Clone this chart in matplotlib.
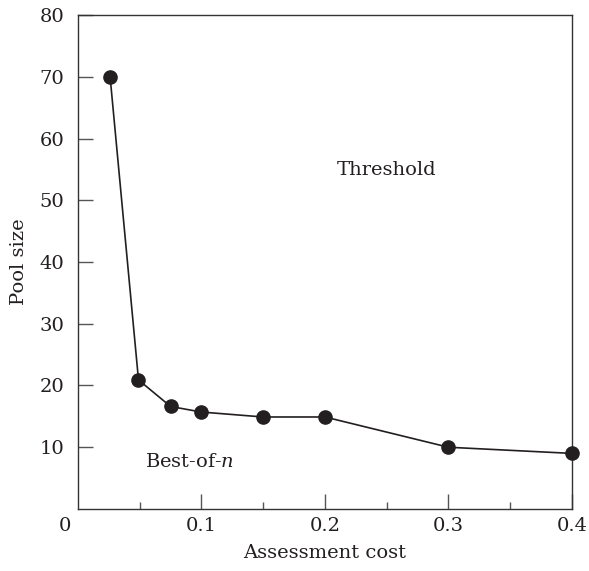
import matplotlib
matplotlib.use("Agg")
import matplotlib.pyplot as plt
from matplotlib.ticker import FixedLocator

plt.rcParams['font.family'] = ['DejaVu Serif']
plt.rcParams['mathtext.fontset'] = 'dejavuserif'

cost = [0.026, 0.049, 0.075, 0.1, 0.15, 0.2, 0.3, 0.4]
pool = [70, 20.9, 16.6, 15.7, 14.9, 14.9, 10.0, 9.0]
xticks = [0.1, 0.2, 0.3, 0.4]
xticklabels = ['0.1', '0.2', '0.3', '0.4']
yticks = [10, 20, 30, 40, 50, 60, 70, 80]

fs = 14
fig = plt.figure(figsize=(5.89, 5.71), dpi=100)
ax = fig.add_axes([0.1324, 0.1086, 0.9711 - 0.1324, 0.9737 - 0.1086])
ax.plot(cost, pool, color='#231f20', lw=1.2, marker='o', ms=9.5,
        markerfacecolor='#231f20', markeredgecolor='#231f20', clip_on=False, zorder=3)
ax.set_xlim(0, 0.4)
ax.set_ylim(0, 80)
ax.xaxis.set_major_locator(FixedLocator(xticks))
ax.set_xticklabels(xticklabels)
ax.xaxis.set_minor_locator(FixedLocator([0.05, 0.15, 0.25, 0.35]))
ax.yaxis.set_major_locator(FixedLocator(yticks))
ax.tick_params(axis='both', which='major', direction='in', length=11, width=1.0,
               color='#555555', labelsize=fs, labelcolor='#231f20')
ax.tick_params(axis='x', which='major', pad=6)
ax.tick_params(axis='y', which='major', pad=10)
ax.tick_params(axis='x', which='minor', direction='in', length=5, width=1.0, color='#555555')
for s in ax.spines.values():
    s.set_color('#333333')
    s.set_linewidth(1.0)
ax.text(-0.0105, -1.3, '0', transform=ax.transData, fontsize=fs, ha='center', va='top',
        color='#231f20', clip_on=False)
ax.set_xlabel('Assessment cost', fontsize=fs, labelpad=6, color='#231f20')
ax.set_ylabel('Pool size', fontsize=fs, labelpad=8, color='#231f20')
ax.text(0.25, 54.9, 'Threshold', fontsize=fs, ha='center', va='center', color='#231f20')
ax.text(0.054, 7.6, 'Best-of-$\\it{n}$', fontsize=fs, ha='left', va='center', color='#231f20')
fig.savefig('out.png', dpi=100)
